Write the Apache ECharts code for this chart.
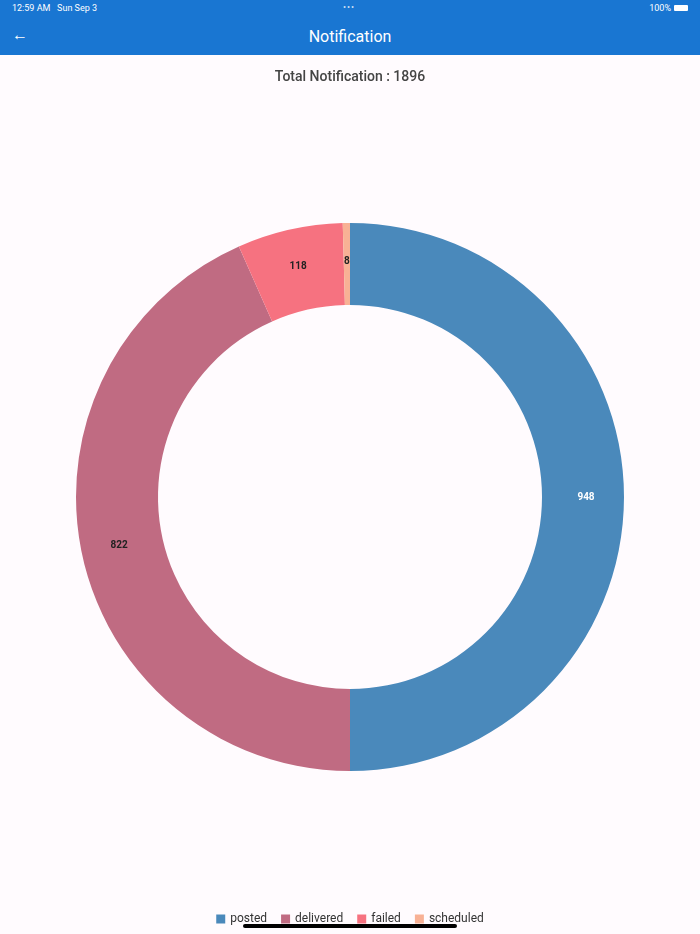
<!DOCTYPE html>
<html>
<head>
<meta charset="utf-8">
<script src="https://cdn.jsdelivr.net/npm/echarts@6/dist/echarts.min.js"></script>
<style>
html,body{margin:0;padding:0;background:#fffbfe;font-family:Roboto,"Noto Sans",sans-serif;}
#page{position:relative;width:700px;height:934px;overflow:hidden;}
#main{position:absolute;left:0;top:0;width:700px;height:934px;}
#bar{position:absolute;left:0;top:0;width:700px;height:55px;background:#1976d2;color:#fff;z-index:2;}
#status{position:absolute;top:3px;left:12px;font-size:9px;}
#dots{position:absolute;top:2px;left:343px;font-size:9px;letter-spacing:1px;color:#cfe0f5;}
#batt{position:absolute;top:3px;right:12px;font-size:9px;display:flex;align-items:center;gap:3px;}
#batt .b{width:14px;height:6px;background:#fff;border-radius:1px;}
#title{position:absolute;top:27px;width:700px;text-align:center;font-size:16px;}
#back{position:absolute;top:25px;left:12px;font-size:16px;}
#home{position:absolute;left:243px;top:924px;width:214px;height:4px;border-radius:2px;background:#000;z-index:2;}
</style>
</head>
<body>
<div id="page">
  <div id="main"></div>
  <div id="bar">
    <div id="status">12:59 AM&nbsp;&nbsp;&nbsp;Sun Sep 3</div>
    <div id="dots">•••</div>
    <div id="batt">100% <span class="b"></span></div>
    <div id="back">&#8592;</div>
    <div id="title">Notification</div>
  </div>
  <div id="home"></div>
</div>
<script>
// chart data
var categories = ['posted', 'delivered', 'failed', 'scheduled'];
var counts = [948, 822, 118, 8];
var colors = ['#4a89bb', '#c06b82', '#f67280', '#f8b195'];
var labelColors = ['#ffffff', '#222222', '#222222', '#222222'];

var total = 0;
for (var i = 0; i < counts.length; i++) total += counts[i];

var myChart = echarts.init(document.getElementById('main'));
myChart.setOption({
    backgroundColor: '#fffbfe',
    animation: false,
    title: {
        text: 'Total Notification : ' + total,
        left: 'center',
        top: 65,
        textStyle: {fontSize: 14, fontWeight: 500, color: '#444', fontFamily: 'Roboto'}
    },
    legend: {
        data: categories,
        bottom: 4,
        left: 'center',
        itemWidth: 9,
        itemHeight: 9,
        itemGap: 14,
        icon: 'rect',
        textStyle: {fontSize: 12, color: '#333', fontFamily: 'Roboto', padding: [0, 0, 0, 0]}
    },
    series: [{
        type: 'pie',
        center: [350, 497],
        radius: [192, 274],
        startAngle: 90,
        clockwise: true,
        avoidLabelOverlap: false,
        label: {
            show: true,
            position: 'inside',
            fontSize: 10,
            fontWeight: 'bold',
            fontFamily: 'Roboto',
            formatter: '{c}'
        },
        labelLine: {show: false},
        data: categories.map(function (name, i) {
            return {
                name: name,
                value: counts[i],
                itemStyle: {color: colors[i]},
                label: {color: labelColors[i]}
            };
        })
    }]
});
</script>
</body>
</html>
